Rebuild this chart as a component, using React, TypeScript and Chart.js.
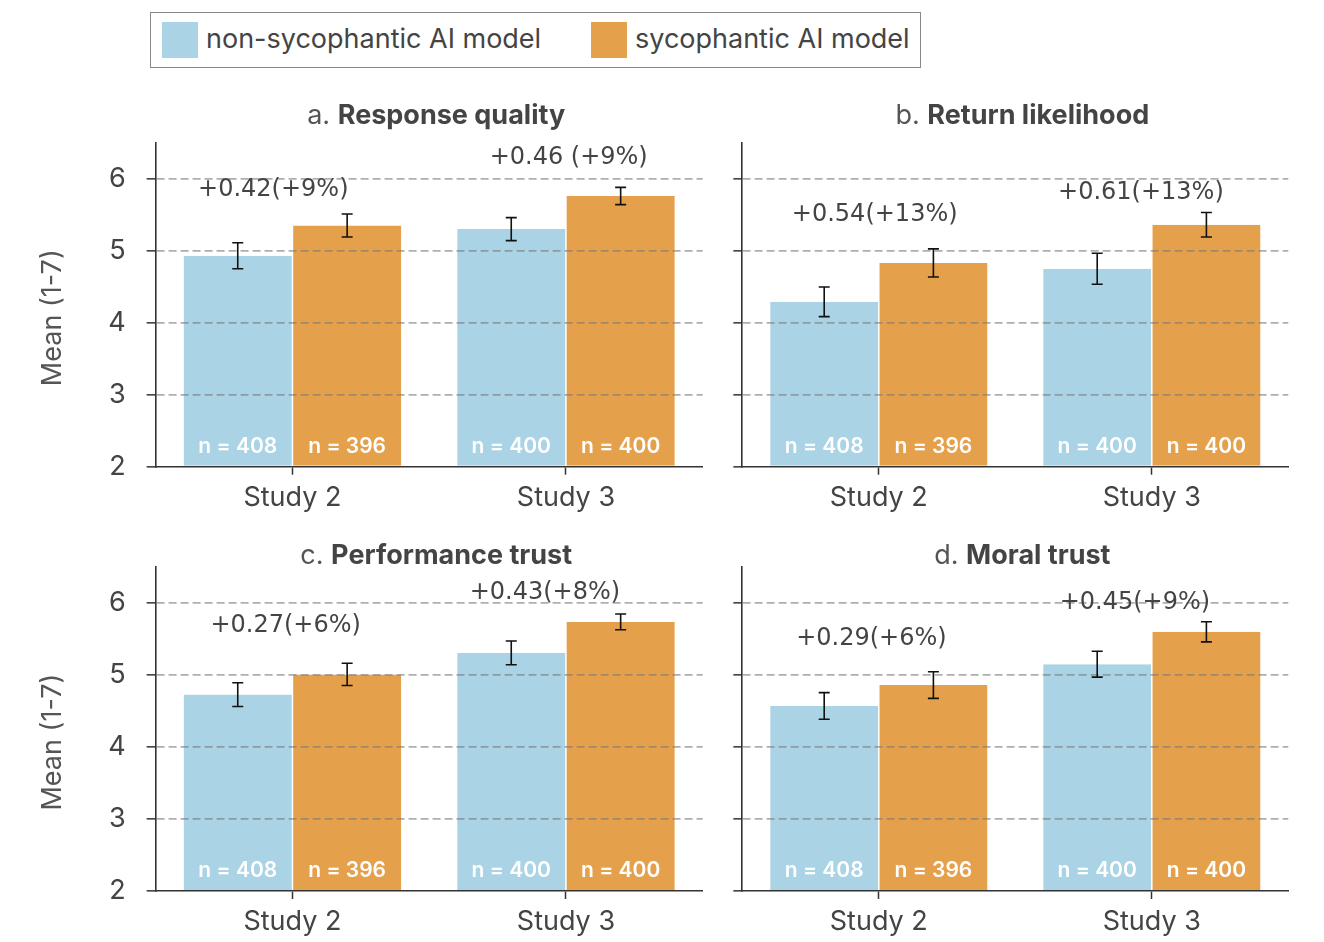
import React, { useEffect, useRef } from 'react';
import { Chart, registerables } from 'chart.js';

Chart.register(...registerables);

// ---------- data ----------
const categories = ['Study 2', 'Study 3'];
const seriesNames = ['non-sycophantic AI model', 'sycophantic AI model'];
const yTicks = [2, 3, 4, 5, 6];
const yMin = 2;
const yMax = 6.5;

const panelLetters = ['a.', 'b.', 'c.', 'd.'];
const panelTitles = ['Response quality', 'Return likelihood', 'Performance trust', 'Moral trust'];

// sample sizes (same in every panel)
const nNon = [408, 400];
const nSyc = [396, 400];

// a. Response quality
const rqNon = [4.93, 5.30];
const rqSyc = [5.35, 5.76];
const rqNonErr = [0.18, 0.16];
const rqSycErr = [0.16, 0.12];
const rqDiff = ['+0.42(+9%)', '+0.46 (+9%)'];
const rqDiffY = [5.84, 6.285];
const rqDiffDx = [-0.07, 0.01];

// b. Return likelihood
const rlNon = [4.29, 4.75];
const rlSyc = [4.83, 5.36];
const rlNonErr = [0.205, 0.215];
const rlSycErr = [0.195, 0.17];
const rlDiff = ['+0.54(+13%)', '+0.61(+13%)'];
const rlDiffY = [5.5, 5.8];
const rlDiffDx = [-0.015, -0.04];

// c. Performance trust
const ptNon = [4.73, 5.31];
const ptSyc = [5.01, 5.74];
const ptNonErr = [0.165, 0.165];
const ptSycErr = [0.155, 0.11];
const ptDiff = ['+0.27(+6%)', '+0.43(+8%)'];
const ptDiffY = [5.68, 6.14];
const ptDiffDx = [-0.025, -0.077];

// d. Moral trust
const mtNon = [4.57, 5.15];
const mtSyc = [4.86, 5.6];
const mtNonErr = [0.185, 0.18];
const mtSycErr = [0.185, 0.14];
const mtDiff = ['+0.29(+6%)', '+0.45(+9%)'];
const mtDiffY = [5.51, 6.01];
const mtDiffDx = [-0.027, -0.062];

const nLabelValue = 2.28;

// ---------- style ----------
const BLUE = '#aad3e5';
const ORANGE = '#e4a04b';
const AXIS = '#333333';
const TEXT = '#444444';
const GRID = 'rgba(120,120,120,0.6)';
const FONT = 'Inter';

type Rect = { x: number; y: number; w: number; h: number };
type Area = { l: number; r: number; t: number; b: number };
type Panel = {
  canvas: Rect;
  area: Area;
  titleY: number;
  showY: boolean;
  letter: string;
  title: string;
  non: number[];
  syc: number[];
  nonErr: number[];
  sycErr: number[];
  diff: string[];
  diffY: number[];
  diffDx: number[];
};

const panels: Panel[] = [
  {
    canvas: { x: 0, y: 80, w: 720, h: 450 },
    area: { l: 155.7, r: 702.7, t: 142.7, b: 466.7 },
    titleY: 115.5, showY: true, letter: panelLetters[0], title: panelTitles[0],
    non: rqNon, syc: rqSyc, nonErr: rqNonErr, sycErr: rqSycErr, diff: rqDiff, diffY: rqDiffY, diffDx: rqDiffDx,
  },
  {
    canvas: { x: 720, y: 80, w: 604, h: 450 },
    area: { l: 742.3, r: 1288.3, t: 142.7, b: 466.7 },
    titleY: 115.5, showY: false, letter: panelLetters[1], title: panelTitles[1],
    non: rlNon, syc: rlSyc, nonErr: rlNonErr, sycErr: rlSycErr, diff: rlDiff, diffY: rlDiffY, diffDx: rlDiffDx,
  },
  {
    canvas: { x: 0, y: 530, w: 720, h: 412 },
    area: { l: 155.7, r: 702.7, t: 567, b: 891 },
    titleY: 555.5, showY: true, letter: panelLetters[2], title: panelTitles[2],
    non: ptNon, syc: ptSyc, nonErr: ptNonErr, sycErr: ptSycErr, diff: ptDiff, diffY: ptDiffY, diffDx: ptDiffDx,
  },
  {
    canvas: { x: 720, y: 530, w: 604, h: 412 },
    area: { l: 742.3, r: 1288.3, t: 567, b: 891 },
    titleY: 555.5, showY: false, letter: panelLetters[3], title: panelTitles[3],
    non: mtNon, syc: mtSyc, nonErr: mtNonErr, sycErr: mtSycErr, diff: mtDiff, diffY: mtDiffY, diffDx: mtDiffDx,
  },
];

function makeOverlay(p: Panel) {
  return {
    id: 'overlay',
    afterDraw(chart: any) {
      const ctx = chart.ctx as CanvasRenderingContext2D;
      const xs = chart.scales.x;
      const ys = chart.scales.y;
      const ca = chart.chartArea;
      const errs = [p.nonErr, p.sycErr];
      const vals = [p.non, p.syc];
      const ns = [nNon, nSyc];

      ctx.save();
      // error bars
      ctx.strokeStyle = '#111';
      ctx.lineWidth = 1.6;
      for (let d = 0; d < 2; d++) {
        const meta = chart.getDatasetMeta(d);
        meta.data.forEach((bar: any, i: number) => {
          const yHi = ys.getPixelForValue(vals[d][i] + errs[d][i]);
          const yLo = ys.getPixelForValue(vals[d][i] - errs[d][i]);
          const x = bar.x;
          ctx.beginPath();
          ctx.moveTo(x, yLo);
          ctx.lineTo(x, yHi);
          ctx.moveTo(x - 5.5, yHi);
          ctx.lineTo(x + 5.5, yHi);
          ctx.moveTo(x - 5.5, yLo);
          ctx.lineTo(x + 5.5, yLo);
          ctx.stroke();
        });
      }
      // n labels
      ctx.fillStyle = '#ffffff';
      ctx.font = `600 21px ${FONT}`;
      ctx.textAlign = 'center';
      ctx.textBaseline = 'middle';
      for (let d = 0; d < 2; d++) {
        const meta = chart.getDatasetMeta(d);
        meta.data.forEach((bar: any, i: number) => {
          ctx.fillText(`n = ${ns[d][i]}`, bar.x, ys.getPixelForValue(nLabelValue));
        });
      }
      // difference annotations
      ctx.fillStyle = TEXT;
      ctx.font = `24px "DejaVu Sans"`;
      const step = xs.getPixelForValue(1) - xs.getPixelForValue(0);
      p.diff.forEach((t, i) => {
        ctx.fillText(t, xs.getPixelForValue(i) + p.diffDx[i] * step, ys.getPixelForValue(p.diffY[i]));
      });
      // panel title (mixed weight)
      const partA = p.letter + ' ';
      ctx.font = `400 27px ${FONT}`;
      const wA = ctx.measureText(partA).width;
      ctx.font = `700 27px ${FONT}`;
      const wB = ctx.measureText(p.title).width;
      const cx = (ca.left + ca.right) / 2 + 7;
      const ty = p.titleY - p.canvas.y;
      const x0 = cx - (wA + wB) / 2;
      ctx.textAlign = 'left';
      ctx.textBaseline = 'middle';
      ctx.font = `400 27px ${FONT}`;
      ctx.fillStyle = '#555555';
      ctx.fillText(partA, x0, ty);
      ctx.font = `700 27px ${FONT}`;
      ctx.fillStyle = TEXT;
      ctx.fillText(p.title, x0 + wA, ty);
      // y axis title
      if (p.showY) {
        ctx.save();
        ctx.translate(53 - p.canvas.x, (ca.top + ca.bottom) / 2 + 13);
        ctx.rotate(-Math.PI / 2);
        ctx.font = `400 27px ${FONT}`;
        ctx.fillStyle = '#555555';
        ctx.textAlign = 'center';
        ctx.textBaseline = 'middle';
        ctx.fillText('Mean (1-7)', 0, 0);
        ctx.restore();
      }
      ctx.restore();
    },
  };
}

function makeChart(canvas: HTMLCanvasElement, p: Panel) {
  const yW = p.area.l - p.canvas.x;
  const xH = p.canvas.y + p.canvas.h - p.area.b;
  const barBorder = { top: 0, bottom: 0, left: 0.75, right: 0.75 };
  return new Chart(canvas, {
    type: 'bar',
    data: {
      labels: categories,
      datasets: [
        {
          label: seriesNames[0], data: p.non, backgroundColor: BLUE, borderColor: '#ffffff',
          borderWidth: barBorder, borderSkipped: false, base: yMin,
          categoryPercentage: 0.8, barPercentage: 1.0,
        } as any,
        {
          label: seriesNames[1], data: p.syc, backgroundColor: ORANGE, borderColor: '#ffffff',
          borderWidth: barBorder, borderSkipped: false, base: yMin,
          categoryPercentage: 0.8, barPercentage: 1.0,
        } as any,
      ],
    },
    options: {
      responsive: false,
      animation: false,
      devicePixelRatio: window.devicePixelRatio || 1,
      layout: {
        padding: {
          left: 0,
          top: p.area.t - p.canvas.y,
          right: p.canvas.x + p.canvas.w - p.area.r,
          bottom: 0,
        },
      },
      plugins: {
        legend: { display: false },
        tooltip: { enabled: false },
        title: { display: false },
      },
      scales: {
        x: {
          type: 'category',
          offset: true,
          grid: {
            offset: false, drawOnChartArea: false, drawTicks: true, tickLength: 8,
            tickColor: AXIS, tickWidth: 1.5, z: 1,
          },
          border: { display: true, color: AXIS, width: 1.6, z: 2 },
          ticks: { font: { family: FONT, size: 27 }, color: TEXT, padding: 7, maxRotation: 0 },
          afterFit: (s: any) => { s.height = xH; },
        } as any,
        y: {
          type: 'linear',
          min: yMin,
          max: yMax,
          afterBuildTicks: (s: any) => { s.ticks = yTicks.map((v) => ({ value: v })); },
          grid: {
            color: (c: any) => (c.tick && c.tick.value === yMin ? 'rgba(0,0,0,0)' : GRID),
            lineWidth: 1.7, drawTicks: true, tickLength: 9, tickColor: AXIS, tickWidth: 1.5,
            tickBorderDash: [], z: 1,
          },
          border: { display: true, color: AXIS, width: 1.6, dash: [8, 4], z: 2 },
          ticks: { display: p.showY, font: { family: FONT, size: 27 }, color: TEXT, padding: 21 },
          afterFit: (s: any) => { s.width = yW; },
        } as any,
      },
    },
    plugins: [makeOverlay(p)],
  } as any);
}

export default function App() {
  const refs = useRef<(HTMLCanvasElement | null)[]>([]);
  useEffect(() => {
    const charts = panels.map((p, i) => makeChart(refs.current[i] as HTMLCanvasElement, p));
    return () => charts.forEach((c) => c.destroy());
  }, []);

  const legendText: React.CSSProperties = {
    position: 'absolute', top: 21, height: 36, lineHeight: '36px', fontSize: 27,
    color: TEXT, whiteSpace: 'nowrap', fontFamily: FONT,
  };

  return (
    <div style={{ position: 'absolute', left: 0, top: 0, width: 1324, height: 942, background: '#fff', overflow: 'hidden' }}>
      <div style={{ position: 'absolute', left: 150, top: 12, width: 771, height: 56, border: '1px solid #888', boxSizing: 'border-box' }} />
      <div style={{ position: 'absolute', left: 162, top: 22, width: 36, height: 36, background: BLUE }} />
      <div style={{ ...legendText, left: 206 }}>{seriesNames[0]}</div>
      <div style={{ position: 'absolute', left: 591, top: 22, width: 36, height: 36, background: ORANGE }} />
      <div style={{ ...legendText, left: 635 }}>{seriesNames[1]}</div>
      {panels.map((p, i) => (
        <canvas
          key={i}
          ref={(el) => { refs.current[i] = el; }}
          width={p.canvas.w}
          height={p.canvas.h}
          style={{ position: 'absolute', left: p.canvas.x, top: p.canvas.y, width: p.canvas.w, height: p.canvas.h }}
        />
      ))}
    </div>
  );
}
